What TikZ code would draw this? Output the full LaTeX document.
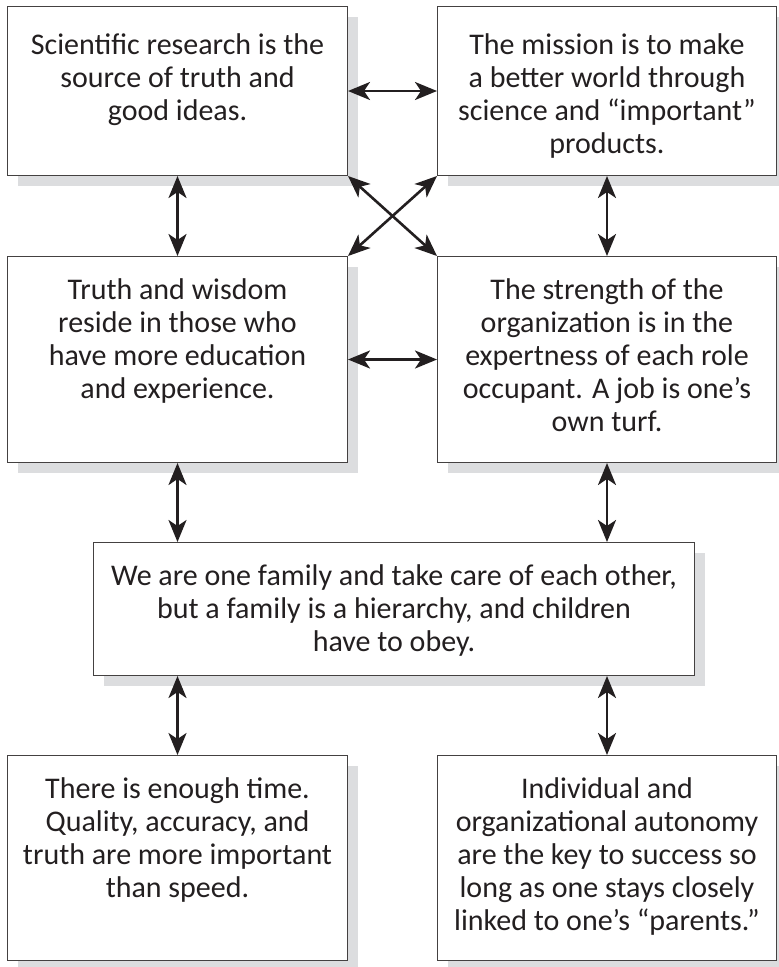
\documentclass[tikz,border=0pt]{standalone}
\usepackage{fontspec}
\setmainfont{Carlito}
\usetikzlibrary{arrows.meta,shadows}
\definecolor{shade}{HTML}{DCDDDF}
\definecolor{ink}{HTML}{231F20}
\begin{document}
\begin{tikzpicture}[x=1pt,y=-1pt,
  box/.style={draw=ink!85, line width=1pt, fill=white, rectangle, inner sep=0pt,
    anchor=north west,
    drop shadow={shadow xshift=10pt, shadow yshift=-10pt, fill=shade, opacity=1}},
  boxtext/.style={anchor=north, yshift=-22pt, inner sep=0pt, align=center,
    text=ink, font=\fontsize{30}{33}\selectfont},
  twoway/.style={draw=ink, line width=2.6pt,
    arrows={Stealth[length=22pt,width=18pt,inset=6pt]-Stealth[length=22pt,width=18pt,inset=6pt]}}]
\useasboundingbox (0,0) rectangle (779,967);
\fill[white] (0,0) rectangle (779,967);

\node[box, minimum width=340pt, minimum height=169pt] (b1) at (7,6) {};
\node[box, minimum width=339pt, minimum height=169pt] (b2) at (437,6) {};
\node[box, minimum width=340pt, minimum height=206pt] (b3) at (7,256) {};
\node[box, minimum width=339pt, minimum height=206pt] (b4) at (437,256) {};
\node[box, minimum width=601pt, minimum height=133pt] (b5) at (93,542) {};
\node[box, minimum width=340pt, minimum height=205pt] (b6) at (7,755) {};
\node[box, minimum width=339pt, minimum height=205pt] (b7) at (437,755) {};

\node[boxtext, yshift=-5pt] (t1) at (b1.north) {Scientific research is the\\ source of truth and\\ good ideas.};
\node[boxtext, yshift=-5pt] (t2) at (b2.north) {The mission is to make\\ a better world through\\ science and “important”\\ products.};
\node[boxtext] (t3) at (b3.north) {Truth and wisdom\\ reside in those who\\ have more education\\ and experience.};
\node[boxtext] (t4) at (b4.north) {The strength of the\\ organization is in the\\ expertness of each role\\ occupant. A job is one’s\\ own turf.};
\node[boxtext] (t5) at (b5.north) {We are one family and take care of each other,\\ but a family is a hierarchy, and children\\ have to obey.};
\node[boxtext] (t6) at (b6.north) {There is enough time.\\ Quality, accuracy, and\\ truth are more important\\ than speed.};
\node[boxtext] (t7) at (b7.north) {Individual and\\ organizational autonomy\\ are the key to success so\\ long as one stays closely\\ linked to one’s “parents.”};

\draw[twoway] (b1.east) -- (b2.west);
\draw[twoway] (b3.east) -- (b4.west);
\draw[twoway] (b1.south) -- (b3.north);
\draw[twoway] (b2.south) -- (b4.north);
\draw[twoway] (b1.south east) -- (b4.north west);
\draw[twoway] (b2.south west) -- (b3.north east);
\draw[twoway] (b3.south) -- (b3.south |- b5.north);
\draw[twoway] (b4.south) -- (b4.south |- b5.north);
\draw[twoway] (b6.north |- b5.south) -- (b6.north);
\draw[twoway] (b7.north |- b5.south) -- (b7.north);
\end{tikzpicture}
\end{document}
